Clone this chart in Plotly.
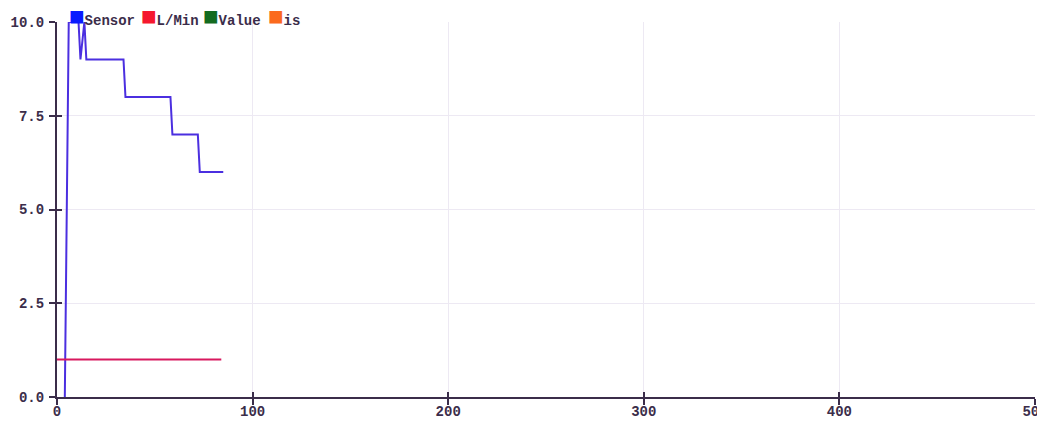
import plotly.graph_objects as go

# Data
sensor_x = [4, 6, 11, 12, 14, 15, 34, 35, 58, 59, 72, 73, 85]
sensor_y = [0, 10, 10, 9, 10, 9, 9, 8, 8, 7, 7, 6, 6]
lmin_x = [0, 84]
lmin_y = [1, 1]
series_names = ["Sensor", "L/Min", "Value", "is"]
legend_colors = ["#0a1aff", "#f5172e", "#136b1f", "#fb6a1e"]
x_ticks = [0, 100, 200, 300, 400, 500]
y_ticks = [0, 2.5, 5, 7.5, 10]

font_family = "Liberation Mono, Courier New, monospace"
ink = "#3b2d4a"
grid = "#ede9f3"

# page body has an 8px margin
W, H = 1037, 416
ML, MR, MT, MB = 49, 10, 14, 27
plot_w = W - ML - MR
plot_h = H - MT - MB

fig = go.Figure()
fig.add_trace(go.Scatter(x=sensor_x, y=sensor_y, mode="lines", name="Sensor",
                         line=dict(color="#4b2fe0", width=2), showlegend=False,
                         cliponaxis=False))
fig.add_trace(go.Scatter(x=lmin_x, y=lmin_y, mode="lines", name="L/Min",
                         line=dict(color="#d8185e", width=2), showlegend=False))

# overlay axes for inside tick halves
fig.add_trace(go.Scatter(x=[None], y=[None], xaxis="x2", yaxis="y2", showlegend=False))

axis_common = dict(showline=True, linecolor=ink, linewidth=2, ticks="outside",
                   ticklen=6, tickwidth=1.5, tickcolor=ink, gridcolor=grid,
                   gridwidth=1, zeroline=False, automargin=False,
                   ticklabeloverflow="allow",
                   tickfont=dict(family=font_family, size=14, color=ink, weight="bold"))

# legend entries (square + label) laid out left to right (page px of square's left edge)
legend_px = [67, 139, 201, 266]
for name, col, px in zip(series_names, legend_colors, legend_px):
    fig.add_annotation(
        xref="paper", yref="paper", x=(px - 8 - ML) / plot_w, y=1 + (MT - 10) / plot_h,
        xanchor="left", yanchor="middle", showarrow=False,
        text=f"<span style='color:{col};font-size:26px'>■</span>{name}",
        font=dict(family=font_family, size=14, color=ink, weight="bold"),
    )

fig.update_layout(
    width=W, height=H,
    margin=dict(l=ML, r=MR, t=MT, b=MB, autoexpand=False),
    paper_bgcolor="white", plot_bgcolor="white",
    font=dict(family=font_family, color=ink),
    showlegend=False,
    xaxis=dict(range=[0, 500], tickvals=x_ticks, ticktext=[str(v) for v in x_ticks],
               ticklabelstandoff=-6, **axis_common),
    yaxis=dict(range=[0, 10], tickvals=y_ticks,
               ticktext=["0.0", "2.5", "5.0", "7.5", "10.0"], ticklabelstandoff=2,
               **axis_common),
    xaxis2=dict(range=[0, 500], overlaying="x", tickvals=x_ticks, ticks="inside",
                ticklen=5, tickwidth=1.5, tickcolor=ink, showticklabels=False,
                showgrid=False, zeroline=False, showline=False),
    yaxis2=dict(range=[0, 10], overlaying="y", tickvals=y_ticks, ticks="inside",
                ticklen=5, tickwidth=1.5, tickcolor=ink, showticklabels=False,
                showgrid=False, zeroline=False, showline=False),
)

fig.write_html("out.html")
